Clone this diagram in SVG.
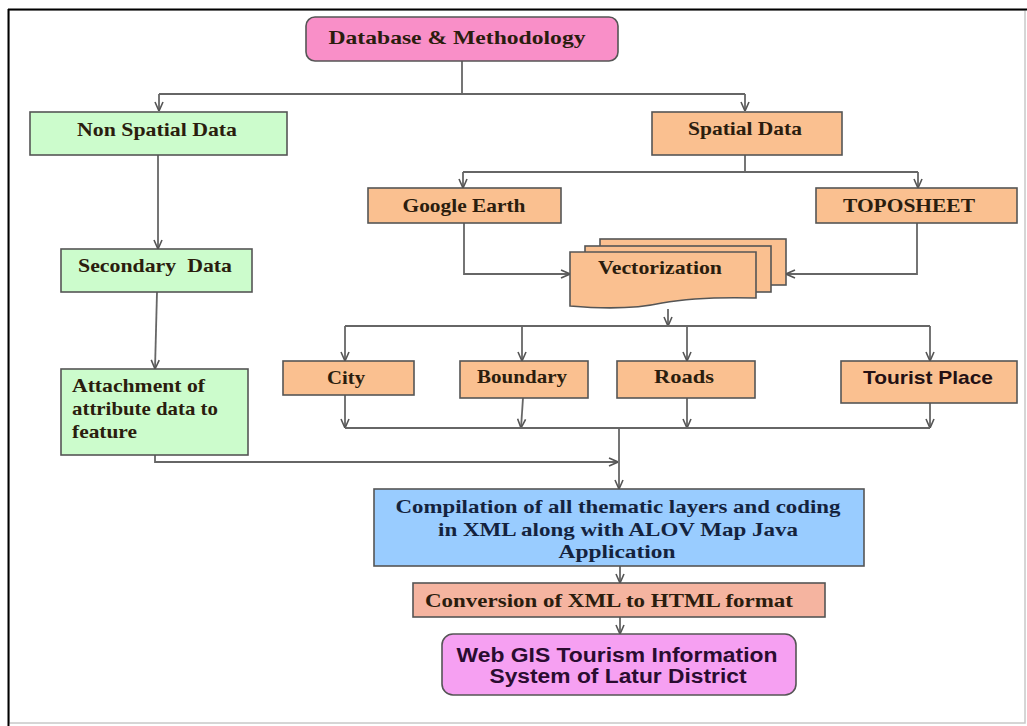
<svg xmlns="http://www.w3.org/2000/svg" width="1027" height="726" viewBox="0 0 1027 726">
<style>
.box{stroke:#555;stroke-width:1.6}
.g{fill:#ccfccc}
.o{fill:#fac090}
.t{font-family:"Liberation Serif","Times New Roman",serif;font-weight:bold;font-size:19px;fill:#2b1d0e}
.s{font-family:"Liberation Sans",Arial,sans-serif;font-weight:bold;font-size:19px;fill:#231014}
.c{fill:none;stroke:#666;stroke-width:1.8}
</style>
<defs>
<marker id="a" viewBox="0 0 10 10" refX="10" refY="5" markerWidth="10" markerHeight="10" markerUnits="userSpaceOnUse" orient="auto">
<path d="M1,1 L10,5 L1,9" fill="none" stroke="#555" stroke-width="1.6"/>
</marker>
</defs>
<rect width="1027" height="726" fill="#fff"/>
<rect x="9" y="10" width="1016" height="713" fill="none" stroke="#c8c8c8" stroke-width="1.5"/>
<line x1="8" y1="9.5" x2="1027" y2="9.5" stroke="#000" stroke-width="2"/>
<line x1="8.5" y1="9" x2="8.5" y2="726" stroke="#000" stroke-width="2"/>

<g id="connectors">
<path class="c" d="M462,61 V94"/>
<path class="c" d="M159,94 H745"/>
<path class="c" d="M159,94 V111" marker-end="url(#a)"/>
<path class="c" d="M745,94 V111" marker-end="url(#a)"/>
<path class="c" d="M158,155 V249" marker-end="url(#a)"/>
<path class="c" d="M157,292 L155,369" marker-end="url(#a)"/>
<path class="c" d="M745,155 V172"/>
<path class="c" d="M463,172 H918"/>
<path class="c" d="M463,172 V188" marker-end="url(#a)"/>
<path class="c" d="M918,172 V188" marker-end="url(#a)"/>
<path class="c" d="M464,223 V274 H570" marker-end="url(#a)"/>
<path class="c" d="M917,223 V274 H786" marker-end="url(#a)"/>
<path class="c" d="M668,309 V326" marker-end="url(#a)"/>
<path class="c" d="M345,326 H930"/>
<path class="c" d="M345,326 V361" marker-end="url(#a)"/>
<path class="c" d="M522,326 V361" marker-end="url(#a)"/>
<path class="c" d="M687,326 V361" marker-end="url(#a)"/>
<path class="c" d="M930,326 V361" marker-end="url(#a)"/>
<path class="c" d="M345,395 V428" marker-end="url(#a)"/>
<path class="c" d="M523,398 L521,428" marker-end="url(#a)"/>
<path class="c" d="M687,398 V428" marker-end="url(#a)"/>
<path class="c" d="M930,403 V428" marker-end="url(#a)"/>
<path class="c" d="M345,428 H930"/>
<path class="c" d="M619,428 V489" marker-end="url(#a)"/>
<path class="c" d="M155,455 V462 H618" marker-end="url(#a)"/>
<path class="c" d="M620,566 V583" marker-end="url(#a)"/>
<path class="c" d="M620,617 V634" marker-end="url(#a)"/>
</g>

<g id="database">
<rect class="box" x="306" y="17" width="312" height="44" rx="9" fill="#f98fc8"/>
<text class="t" x="457" y="44" text-anchor="middle" textLength="257" lengthAdjust="spacingAndGlyphs">Database &amp; Methodology</text>
</g>
<g id="nonspatial">
<rect class="box g" x="30" y="112" width="257" height="43"/>
<text class="t" x="157" y="136" text-anchor="middle" textLength="160" lengthAdjust="spacingAndGlyphs">Non Spatial Data</text>
</g>
<g id="spatial">
<rect class="box o" x="652" y="112" width="190" height="43"/>
<text class="t" x="745" y="135" text-anchor="middle" textLength="114" lengthAdjust="spacingAndGlyphs">Spatial Data</text>
</g>
<g id="google">
<rect class="box o" x="368" y="188" width="193" height="35"/>
<text class="t" x="464" y="212" text-anchor="middle" textLength="123" lengthAdjust="spacingAndGlyphs">Google Earth</text>
</g>
<g id="toposheet">
<rect class="box o" x="816" y="188" width="201" height="35"/>
<text class="t" x="909" y="212" text-anchor="middle" textLength="132" lengthAdjust="spacingAndGlyphs">TOPOSHEET</text>
</g>
<g id="vectorization">
<rect class="box o" x="600" y="239" width="186" height="46"/>
<rect class="box o" x="585" y="246" width="186" height="46"/>
<path class="box o" d="M570,252 H756 V298 C720,297 690,298 662,303 C635,309 605,309 570,306 Z"/>
<text class="t" x="660" y="274" text-anchor="middle" textLength="124" lengthAdjust="spacingAndGlyphs">Vectorization</text>
</g>
<g id="secondary">
<rect class="box g" x="61" y="249" width="191" height="43"/>
<text class="t" x="155" y="272" text-anchor="middle" textLength="154" lengthAdjust="spacingAndGlyphs" xml:space="preserve">Secondary  Data</text>
</g>
<g id="attachment">
<rect class="box g" x="61" y="369" width="187" height="86"/>
<text class="t" x="72" y="392" textLength="133" lengthAdjust="spacingAndGlyphs">Attachment of</text>
<text class="t" x="72" y="415" textLength="146" lengthAdjust="spacingAndGlyphs">attribute data to</text>
<text class="t" x="72" y="438" textLength="65" lengthAdjust="spacingAndGlyphs">feature</text>
</g>
<g id="city">
<rect class="box o" x="283" y="361" width="131" height="34"/>
<text class="t" x="346" y="384" text-anchor="middle" textLength="38" lengthAdjust="spacingAndGlyphs">City</text>
</g>
<g id="boundary">
<rect class="box o" x="460" y="361" width="128" height="37"/>
<text class="t" x="522" y="383" text-anchor="middle" textLength="90" lengthAdjust="spacingAndGlyphs">Boundary</text>
</g>
<g id="roads">
<rect class="box o" x="617" y="361" width="138" height="37"/>
<text class="t" x="684" y="383" text-anchor="middle" textLength="60" lengthAdjust="spacingAndGlyphs">Roads</text>
</g>
<g id="tourist">
<rect class="box o" x="841" y="361" width="176" height="42"/>
<text class="s" x="928" y="384" text-anchor="middle" textLength="130" lengthAdjust="spacingAndGlyphs">Tourist Place</text>
</g>
<g id="compilation">
<rect class="box" x="374" y="489" width="490" height="77" fill="#99ccff"/>
<text class="t" x="618" y="513" text-anchor="middle" textLength="445" lengthAdjust="spacingAndGlyphs" style="fill:#14233e">Compilation of all thematic layers and coding</text>
<text class="t" x="618" y="536" text-anchor="middle" textLength="360" lengthAdjust="spacingAndGlyphs" style="fill:#14233e">in XML along with ALOV Map Java</text>
<text class="t" x="617" y="558" text-anchor="middle" textLength="117" lengthAdjust="spacingAndGlyphs" style="fill:#14233e">Application</text>
</g>
<g id="conversion">
<rect class="box" x="413" y="583" width="412" height="34" fill="#f5b4a0"/>
<text class="t" x="609" y="607" text-anchor="middle" textLength="368" lengthAdjust="spacingAndGlyphs">Conversion of XML to HTML format</text>
</g>
<g id="webgis">
<rect class="box" x="442" y="634" width="354" height="61" rx="11" fill="#f6a0f2"/>
<text class="s" x="617" y="662" text-anchor="middle" textLength="321" lengthAdjust="spacingAndGlyphs" style="font-size:20px;fill:#2a0c30">Web GIS Tourism Information</text>
<text class="s" x="618" y="683" text-anchor="middle" textLength="257" lengthAdjust="spacingAndGlyphs" style="font-size:20px;fill:#2a0c30">System of Latur District</text>
</g>
</svg>
